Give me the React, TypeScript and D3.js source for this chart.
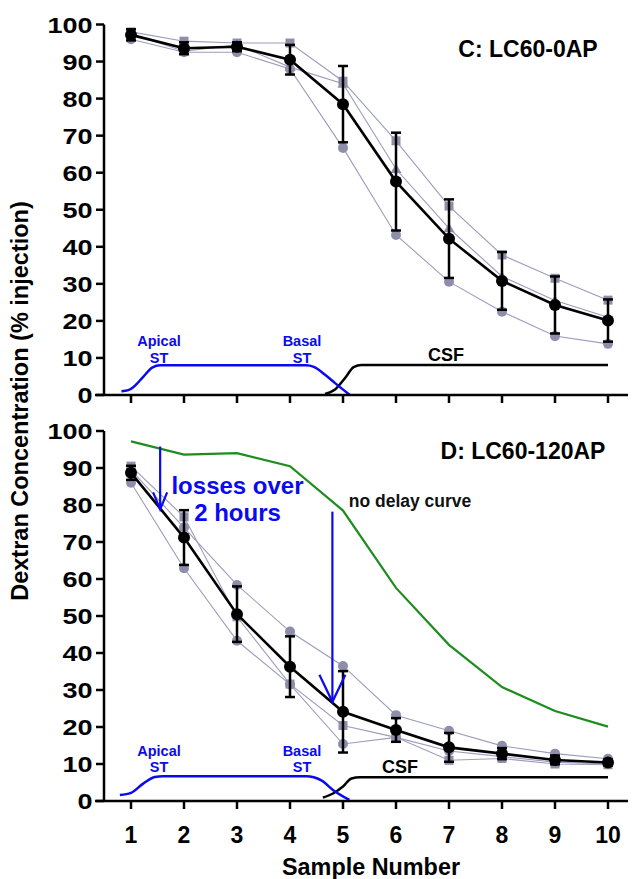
import React from "react";
import * as d3 from "d3";

// ---------- data ----------
const samples = [1, 2, 3, 4, 5, 6, 7, 8, 9, 10];
const yTicks = [0, 10, 20, 30, 40, 50, 60, 70, 80, 90, 100];

// Panel C: LC60-0AP
const meanC = [97.2, 93.6, 94.0, 90.5, 78.5, 57.6, 42.2, 30.8, 24.3, 20.1];
const errC = [1.5, 1.6, 1.2, 4.0, 10.3, 13.2, 10.6, 7.8, 7.7, 5.7];
const sqC = [98.0, 95.5, 95.0, 95.0, 84.7, 68.6, 51.0, 37.8, 31.5, 25.6];
const ciC = [96.0, 92.5, 92.5, 88.0, 66.7, 43.2, 30.6, 22.5, 15.9, 13.8];
const trC = [97.5, 92.8, 94.5, 88.5, 84.0, 61.0, 45.0, 32.0, 25.5, 21.0];

// Panel D: LC60-120AP
const meanD = [88.7, 71.2, 50.5, 36.3, 24.1, 19.2, 14.5, 12.8, 11.1, 10.4];
const errD = [1.9, 7.4, 7.5, 8.2, 11.0, 3.2, 3.9, 1.5, 1.2, 0.8];
const s1D = [89.5, 73.9, 58.4, 45.8, 36.5, 23.2, 19.0, 14.9, 12.8, 11.4];
const s2D = [86.0, 62.9, 43.3, 31.5, 15.4, 17.2, 13.5, 12.0, 10.5, 10.0];
const s3D = [90.5, 76.8, 49.8, 31.6, 20.4, 17.2, 11.0, 11.5, 10.0, 9.8];

// schematic region curves [sample, value]
const stC: [number, number][] = [[0.82, 1.0], [0.95, 1.3], [1.05, 2.2], [1.23, 4.9], [1.4, 7.4], [1.55, 8.0], [1.7, 8.0], [4.3, 8.0], [4.45, 7.6], [4.65, 5.6], [4.85, 3.2], [5.13, 0.0]];
const csfC: [number, number][] = [[4.66, 0.3], [4.85, 1.5], [5.05, 4.8], [5.2, 7.5], [5.35, 8.1], [5.6, 8.1], [10, 8.1]];
const stD: [number, number][] = [[0.79, 1.6], [1.0, 2.2], [1.23, 4.7], [1.45, 6.5], [1.6, 6.7], [4.3, 6.7], [4.45, 6.4], [4.6, 5.5], [4.81, 3.0], [5.12, 0.3]];
const csfD: [number, number][] = [[4.62, 0.9], [4.82, 2.1], [5.0, 3.9], [5.16, 6.1], [5.32, 6.4], [5.6, 6.4], [10, 6.4]];

// loss arrows: [sample, from, to]
const arrows: [number, number, number][] = [[1.55, 95.8, 78.8], [4.8, 78.2, 26.8]];

// ---------- layout ----------
const W = 633, H = 879;
const FONT = "'Liberation Sans', Arial, sans-serif";
const x = d3.scaleLinear().domain([1, 10]).range([131, 608]);
const yC = d3.scaleLinear().domain([0, 100]).range([395, 24.5]);
const yD = d3.scaleLinear().domain([0, 100]).range([801, 431]);
const GRAY = "#8e8eab";
const GRAYLINE = "#9c9cbd";
const BLUE = "#0a0af0";
const GREEN = "#1e8c1e";

function Axes({ y }: { y: d3.ScaleLinear<number, number> }) {
  const y0 = y(0);
  return (
    <g>
      <line x1={104} x2={104} y1={y(100)} y2={y0} stroke="#000" strokeWidth={2.5} />
      <line x1={95} x2={628} y1={y0} y2={y0} stroke="#000" strokeWidth={2.5} />
      {yTicks.map((t) => (
        <g key={t}>
          <line x1={96} x2={104} y1={y(t)} y2={y(t)} stroke="#000" strokeWidth={2.5} />
          <text transform={`translate(92.5,${y(t) + 8}) scale(1.2,1)`} textAnchor="end" fontSize={22.5} fontWeight="bold" fontFamily={FONT}>
            {t}
          </text>
        </g>
      ))}
      {samples.map((s) => (
        <line key={s} x1={x(s)} x2={x(s)} y1={y0} y2={y0 + 8} stroke="#000" strokeWidth={2.5} />
      ))}
    </g>
  );
}

function Marker({ kind, cx, cy }: { kind: string; cx: number; cy: number }) {
  if (kind === "sq") return <rect x={cx - 4.5} y={cy - 4.5} width={9} height={9} fill={GRAY} />;
  if (kind === "tr") return <path d={`M${cx},${cy - 5.5}L${cx + 5.5},${cy + 4}L${cx - 5.5},${cy + 4}Z`} fill={GRAY} />;
  return <circle cx={cx} cy={cy} r={5} fill={GRAY} />;
}

function Series({ vals, y, kind }: { vals: number[]; y: d3.ScaleLinear<number, number>; kind: string }) {
  const line = d3.line<number>().x((_, i) => x(samples[i])).y((v) => y(v));
  return (
    <g>
      <path d={line(vals) || ""} fill="none" stroke={GRAYLINE} strokeWidth={1.1} />
      {vals.map((v, i) => (
        <Marker key={i} kind={kind} cx={x(samples[i])} cy={y(v)} />
      ))}
    </g>
  );
}

function Mean({ vals, err, y }: { vals: number[]; err: number[]; y: d3.ScaleLinear<number, number> }) {
  const line = d3.line<number>().x((_, i) => x(samples[i])).y((v) => y(v));
  return (
    <g>
      {vals.map((v, i) => {
        const cx = x(samples[i]);
        const t = y(v + err[i]);
        const b = y(v - err[i]);
        return (
          <g key={i} stroke="#000" strokeWidth={2.5}>
            <line x1={cx} x2={cx} y1={t} y2={b} />
            <line x1={cx - 5} x2={cx + 5} y1={t} y2={t} />
            <line x1={cx - 5} x2={cx + 5} y1={b} y2={b} />
          </g>
        );
      })}
      <path d={line(vals) || ""} fill="none" stroke="#000" strokeWidth={2.6} />
      {vals.map((v, i) => (
        <circle key={i} cx={x(samples[i])} cy={y(v)} r={6} fill="#000" />
      ))}
    </g>
  );
}

function Region({ st, csf, y }: { st: [number, number][]; csf: [number, number][]; y: d3.ScaleLinear<number, number> }) {
  const line = d3
    .line<[number, number]>()
    .x((d) => x(d[0]))
    .y((d) => y(d[1]))
    .curve(d3.curveMonotoneX);
  return (
    <g>
      <path d={line(csf) || ""} fill="none" stroke="#000" strokeWidth={2.5} />
      <path d={line(st) || ""} fill="none" stroke={BLUE} strokeWidth={2.5} />
    </g>
  );
}

function RegionLabels({ dy }: { dy: number }) {
  const st = { fontSize: 14.5, fontWeight: "bold" as const, fontFamily: FONT, fill: BLUE, textAnchor: "middle" as const };
  return (
    <g>
      <text x={159} y={dy} {...st}>Apical</text>
      <text x={159} y={dy + 16.5} {...st}>ST</text>
      <text x={302} y={dy} {...st}>Basal</text>
      <text x={302} y={dy + 16.5} {...st}>ST</text>
    </g>
  );
}

export default function App() {
  const green = d3.line<number>().x((_, i) => x(samples[i])).y((v) => yD(v));
  return (
    <svg width={W} height={H} style={{ position: "absolute", left: 0, top: 0, background: "#fff" }}>
      <rect width={W} height={H} fill="#fff" />
      {/* Panel C */}
      <Region st={stC} csf={csfC} y={yC} />
      <Series vals={ciC} y={yC} kind="ci" />
      <Series vals={trC} y={yC} kind="tr" />
      <Series vals={sqC} y={yC} kind="sq" />
      <Mean vals={meanC} err={errC} y={yC} />
      <Axes y={yC} />
      <RegionLabels dy={346} />
      <text x={446} y={360.5} textAnchor="middle" fontSize={18} fontWeight="bold" fontFamily={FONT}>CSF</text>
      <text x={528} y={56.5} textAnchor="middle" fontSize={23} fontWeight="bold" fontFamily={FONT}>C: LC60-0AP</text>

      {/* Panel D */}
      <Region st={stD} csf={csfD} y={yD} />
      <path d={green(meanC) || ""} fill="none" stroke={GREEN} strokeWidth={2.2} />
      <Series vals={s2D} y={yD} kind="ci" />
      <Series vals={s3D} y={yD} kind="sq" />
      <Series vals={s1D} y={yD} kind="ci" />
      <Mean vals={meanD} err={errD} y={yD} />
      <Axes y={yD} />
      <RegionLabels dy={755.7} />
      <text x={400} y={772.5} textAnchor="middle" fontSize={18} fontWeight="bold" fontFamily={FONT}>CSF</text>
      <text x={523} y={459} textAnchor="middle" fontSize={23} fontWeight="bold" fontFamily={FONT}>D: LC60-120AP</text>
      <text x={410} y={507} textAnchor="middle" fontSize={17.5} fontWeight="bold" fontFamily={FONT} fill="#111">no delay curve</text>
      {arrows.map(([s, from, to], i) => {
        const ax = x(s);
        const y1 = yD(from);
        const y2 = yD(to);
        const wh = i === 0 ? 17 : 27;
        const ww = i === 0 ? 7 : 13;
        return (
          <g key={i} stroke={BLUE} strokeWidth={2.2} fill="none">
            <line x1={ax} x2={ax} y1={y1} y2={y2} />
            <path d={`M${ax - ww},${y2 - wh}L${ax},${y2}L${ax + ww},${y2 - wh}`} />
          </g>
        );
      })}
      <text x={237.5} y={493.5} textAnchor="middle" fontSize={24} fontWeight="bold" fontFamily={FONT} fill={BLUE}>losses over</text>
      <text x={237.5} y={520.5} textAnchor="middle" fontSize={24} fontWeight="bold" fontFamily={FONT} fill={BLUE}>2 hours</text>

      {/* shared axis labels */}
      {samples.map((s) => (
        <text key={s} x={x(s)} y={843} textAnchor="middle" fontSize={23} fontWeight="bold" fontFamily={FONT}>{s}</text>
      ))}
      <text x={371} y={875} textAnchor="middle" fontSize={23} fontWeight="bold" fontFamily={FONT} textLength={178} lengthAdjust="spacingAndGlyphs">Sample Number</text>
      <text transform="translate(27.5,401) rotate(-90)" textAnchor="middle" fontSize={23.5} fontWeight="bold" fontFamily={FONT}>
        Dextran Concentration (% injection)
      </text>
    </svg>
  );
}
